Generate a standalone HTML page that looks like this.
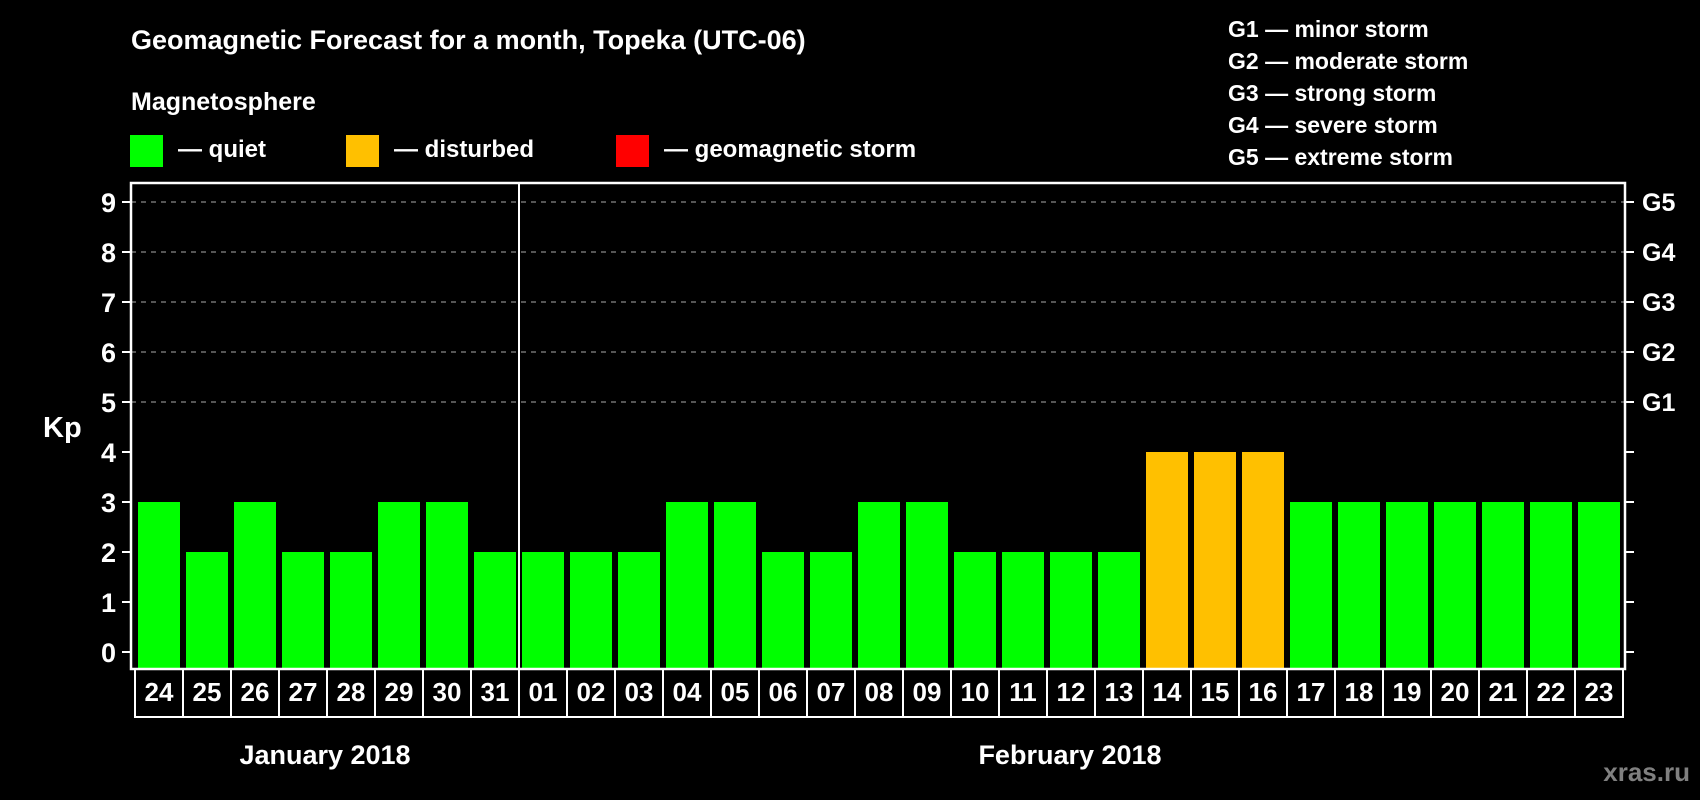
<!DOCTYPE html>
<html><head><meta charset="utf-8"><style>
html,body{margin:0;padding:0;background:#000;}
svg{display:block;font-family:"Liberation Sans",Arial,sans-serif;font-weight:bold;}
</style></head><body>
<svg id="chart" width="1700" height="800" viewBox="0 0 1700 800" xmlns="http://www.w3.org/2000/svg">
<rect width="1700" height="800" fill="#000"/>
<text x="131" y="49" fill="#fff" font-size="27">Geomagnetic Forecast for a month, Topeka (UTC-06)</text>
<text x="131" y="110" fill="#fff" font-size="25">Magnetosphere</text>
<g><rect x="130" y="135" width="33" height="32" fill="#00ff00"/><text x="178" y="157" fill="#fff" font-size="24">— quiet</text></g>
<g><rect x="346" y="135" width="33" height="32" fill="#ffc000"/><text x="394" y="157" fill="#fff" font-size="24">— disturbed</text></g>
<g><rect x="616" y="135" width="33" height="32" fill="#ff0000"/><text x="664" y="157" fill="#fff" font-size="24">— geomagnetic storm</text></g>
<g fill="#fff" font-size="23">
<text x="1228" y="37">G1 — minor storm</text>
<text x="1228" y="69">G2 — moderate storm</text>
<text x="1228" y="101">G3 — strong storm</text>
<text x="1228" y="133">G4 — severe storm</text>
<text x="1228" y="165">G5 — extreme storm</text>
</g>
<text x="43" y="437" fill="#fff" font-size="29">Kp</text>
<g id="grid"></g><g id="bars"></g><g id="axes"></g><g id="labels"></g>
<text x="325" y="764" fill="#fff" font-size="27" text-anchor="middle">January 2018</text>
<text x="1070" y="764" fill="#fff" font-size="27" text-anchor="middle">February 2018</text>
<text x="1690" y="781" fill="#808080" font-size="26" text-anchor="end">xras.ru</text>
</svg>
<script>
const days = ["24","25","26","27","28","29","30","31","01","02","03","04","05","06","07","08","09","10","11","12","13","14","15","16","17","18","19","20","21","22","23"];
const kpValues = [3,2,3,2,2,3,3,2,2,2,2,3,3,2,2,3,3,2,2,2,2,4,4,4,3,3,3,3,3,3,3];
const yTicks = [0,1,2,3,4,5,6,7,8,9];
const gLabels = ["G1","G2","G3","G4","G5"];
const gLevels = [5,6,7,8,9];
const monthBreakIndex = 8;

const NS = "http://www.w3.org/2000/svg";
const L = 131, R = 1625, T = 183, B = 669;
const y = v => 652 - v * 50;
const x0 = i => 135 + i * 48;
function mk(tag, attrs, parent){const e=document.createElementNS(NS,tag);for(const k in attrs)e.setAttribute(k,attrs[k]);parent.appendChild(e);return e;}
const grid=document.getElementById('grid'), bars=document.getElementById('bars'), axes=document.getElementById('axes'), labels=document.getElementById('labels');
const color = v => v >= 5 ? "#ff0000" : (v >= 4 ? "#ffc000" : "#00ff00");

yTicks.forEach(v=>{
  if(v>=5){const g=mk('line',{x1:L,x2:R,y1:y(v),y2:y(v),stroke:"#888","stroke-width":1.2,"stroke-dasharray":"5 5"},grid);
  
  }
  const t=mk('line',{x1:L-9,x2:L,y1:y(v),y2:y(v),stroke:"#fff","stroke-width":2},axes);
  
  
  const t2=mk('line',{x1:R,x2:R+9,y1:y(v),y2:y(v),stroke:"#fff","stroke-width":2},axes);
  
  
  const tx=mk('text',{x:116,y:y(v)+10,fill:"#fff","font-size":27,"text-anchor":"end"},labels);
  tx.textContent=v;
  
  
});
gLabels.forEach((g,i)=>{
  const tx=mk('text',{x:1642,y:y(gLevels[i])+9,fill:"#fff","font-size":25},labels);
  tx.textContent=g;
  
  
});
days.forEach((d,i)=>{
  const v=kpValues[i];
  const b=mk('rect',{x:x0(i)+3,y:y(v),width:42,height:y(0)-y(v)+16,fill:color(v)},bars);
  
  
  const box=mk('rect',{x:x0(i),y:B,width:48,height:48,fill:"none",stroke:"#fff","stroke-width":2},labels);
  
  
  const tx=mk('text',{x:x0(i)+24,y:B+32,fill:"#fff","font-size":26,"text-anchor":"middle"},labels);
  tx.textContent=d;
  
  
});
const frame=mk('rect',{x:L,y:T,width:R-L,height:B-T,fill:"none",stroke:"#fff","stroke-width":2.5},axes);


const sep=mk('line',{x1:x0(monthBreakIndex),x2:x0(monthBreakIndex),y1:T,y2:B+48,stroke:"#fff","stroke-width":2},axes);


</script>
</body></html>
